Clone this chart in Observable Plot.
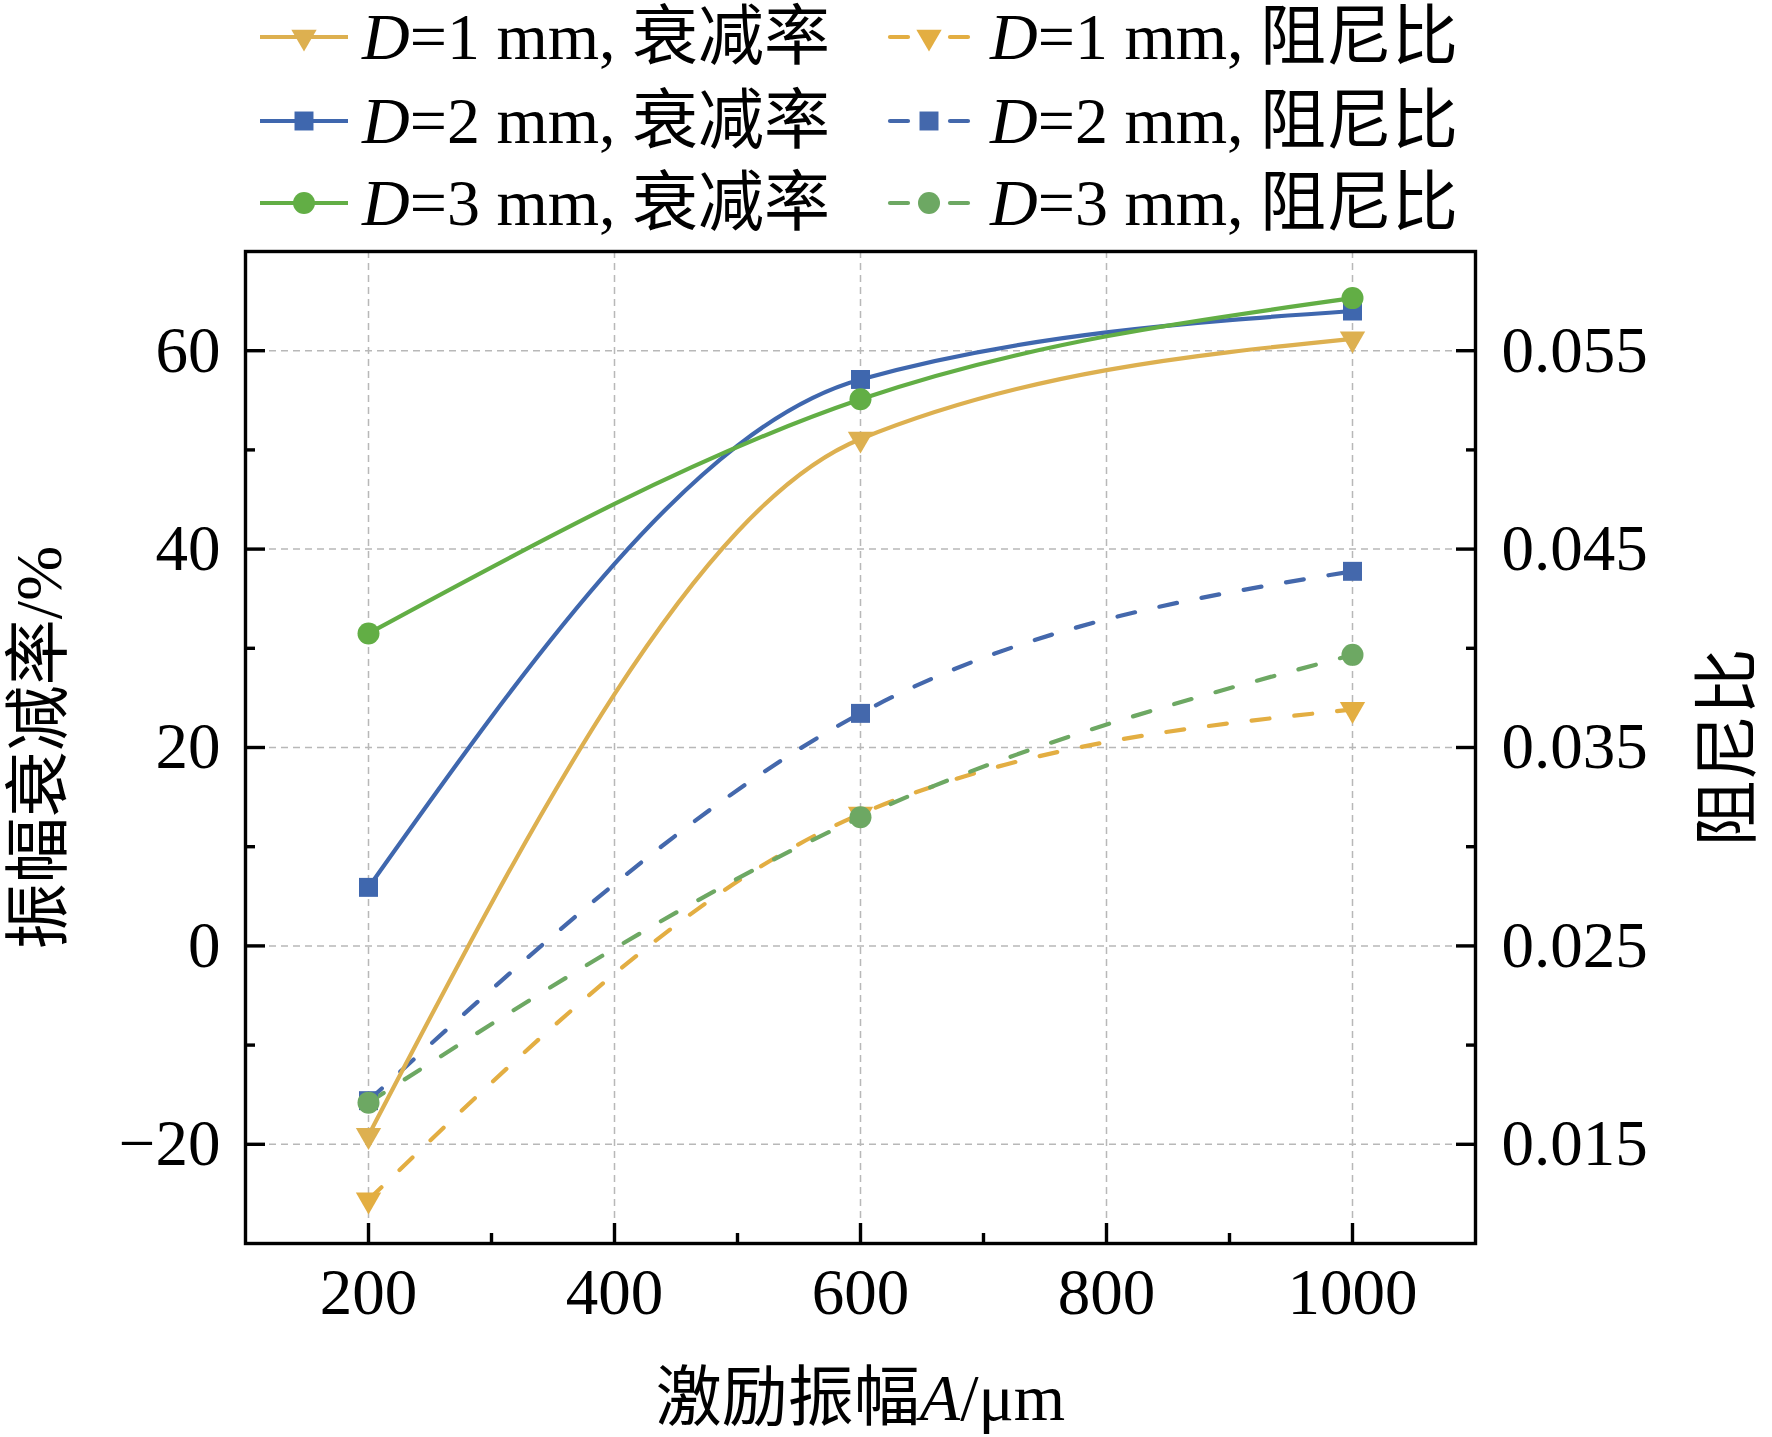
<!DOCTYPE html>
<html>
<head>
<meta charset="utf-8">
<script src="https://cdn.jsdelivr.net/npm/d3@7"></script>
<script src="https://cdn.jsdelivr.net/npm/@observablehq/plot@0.6"></script>
<style>
  html, body { margin: 0; padding: 0; background: #fff; }
  #chart { width: 1772px; background: #fff; }
  #chart svg { display: block; }
</style>
</head>
<body>
<div id="chart"></div>
<script>
// ---------- data ----------
const amplitudes = [200, 600, 1000];            // 激励振幅 A / μm
const diameterLabels = ["D=1 mm", "D=2 mm", "D=3 mm"];
const attenuationD1 = [-19.1, 51.1, 61.2];       // 振幅衰减率 / %
const attenuationD2 = [5.9, 57.1, 64.0];
const attenuationD3 = [31.5, 55.1, 65.3];
const dampingD1 = [0.0122, 0.03165, 0.03692];    // 阻尼比
const dampingD2 = [0.0172, 0.03672, 0.04388];
const dampingD3 = [0.0171, 0.03148, 0.03967];

const xTicks = [200, 400, 600, 800, 1000];
const xMinorTicks = [300, 500, 700, 900];
const yTicks = [-20, 0, 20, 40, 60];
const yMinorTicks = [-10, 10, 30, 50];
const dampingTicks = [0.015, 0.025, 0.035, 0.045, 0.055];
const dampingMinorTicks = [0.020, 0.030, 0.040, 0.050];

const xDomain = [100, 1100];
const yDomain = [-30, 70];
const dampingDomain = [0.010, 0.060];

const xTitle = "激励振幅A/μm";
const yTitle = "振幅衰减率/%";
const y2Title = "阻尼比";

// ---------- styles ----------
const FONT = "'Liberation Serif','Times New Roman','Noto Sans CJK SC',serif";
const colors = {
  solid: ["#DDB050", "#3F67AE", "#62AE45"],
  dashed: ["#E3AE42", "#4468AC", "#6DA863"]
};

const triangleDown = {
  draw(context, size) {
    const s3 = Math.sqrt(3);
    const y = Math.sqrt(size / (s3 * 3));
    context.moveTo(0, y * 2);
    context.lineTo(-s3 * y, -y);
    context.lineTo(s3 * y, -y);
    context.closePath();
  }
};
const symbols = [triangleDown, "square", "circle"];
const radii = [9.4, 10.7, 11];
const solidWidth = 4.2;
const dashedWidth = 4.2;

// right-axis values mapped onto the left scale
const toLeft = d3.scaleLinear().domain(dampingDomain).range(yDomain);

const attenuation = [attenuationD1, attenuationD2, attenuationD3];
const damping = [dampingD1, dampingD2, dampingD3];

const solidSeries = attenuation.map((vals, i) =>
  vals.map((v, j) => ({x: amplitudes[j], y: v, s: i})));
const dashedSeries = damping.map((vals, i) =>
  vals.map((v, j) => ({x: amplitudes[j], y: toLeft(v), s: i})));

const marks = [
  Plot.gridX(xTicks, {stroke: "#b8b8b8", strokeOpacity: 1, strokeWidth: 1.5, strokeDasharray: "7,5"}),
  Plot.gridY(yTicks, {stroke: "#b8b8b8", strokeOpacity: 1, strokeWidth: 1.5, strokeDasharray: "7,5"})
];

// dashed (damping ratio) first
dashedSeries.forEach((data, i) => {
  marks.push(Plot.line(data, {x: "x", y: "y", curve: "monotone-x", stroke: colors.dashed[i],
    strokeWidth: dashedWidth, strokeDasharray: "18,25", strokeLinecap: "round"}));
});
dashedSeries.forEach((data, i) => {
  marks.push(Plot.dot(data, {x: "x", y: "y", symbol: symbols[i], r: radii[i], fill: colors.dashed[i], stroke: "none"}));
});
// solid (attenuation rate)
solidSeries.forEach((data, i) => {
  marks.push(Plot.line(data, {x: "x", y: "y", curve: "monotone-x", stroke: colors.solid[i], strokeWidth: solidWidth}));
});
solidSeries.forEach((data, i) => {
  marks.push(Plot.dot(data, {x: "x", y: "y", symbol: symbols[i], r: radii[i], fill: colors.solid[i], stroke: "none"}));
});

const fmt = d3.format(".3f");
marks.push(
  Plot.frame({stroke: "#000", strokeWidth: 3.4}),
  // inward ticks
  Plot.axisX(xTicks, {anchor: "bottom", tickSize: 20, dy: -20, fill: "none", stroke: "#000", strokeWidth: 3.4, label: null}),
  Plot.axisX(xMinorTicks, {anchor: "bottom", tickSize: 10, dy: -10, fill: "none", stroke: "#000", strokeWidth: 3.4, label: null}),
  Plot.axisY(yTicks, {anchor: "left", tickSize: 20, dx: 20, fill: "none", stroke: "#000", strokeWidth: 3.4, label: null}),
  Plot.axisY(yMinorTicks, {anchor: "left", tickSize: 10, dx: 10, fill: "none", stroke: "#000", strokeWidth: 3.4, label: null}),
  Plot.axisY(dampingTicks.map(toLeft), {anchor: "right", tickSize: 20, dx: -20, fill: "none", stroke: "#000", strokeWidth: 3.4, label: null}),
  Plot.axisY(dampingMinorTicks.map(toLeft), {anchor: "right", tickSize: 10, dx: -10, fill: "none", stroke: "#000", strokeWidth: 3.4, label: null}),
  // tick labels
  Plot.axisX(xTicks, {anchor: "bottom", tickSize: 0, tickPadding: 24, label: null, fill: "#000", tickFormat: d => String(d)}),
  Plot.axisY(yTicks, {anchor: "left", tickSize: 0, tickPadding: 25, label: null, fill: "#000"}),
  Plot.axisY(dampingTicks.map(toLeft), {anchor: "right", tickSize: 0, tickPadding: 26, label: null, fill: "#000",
    tickFormat: v => fmt(toLeft.invert(v))}),
  // axis titles
  Plot.text([xTitle], {frameAnchor: "bottom", dy: 155, textAnchor: "middle", lineAnchor: "middle", fill: "#000", fontSize: 66}),
  Plot.text([yTitle], {frameAnchor: "left", dx: -206, rotate: -90, textAnchor: "middle", lineAnchor: "middle", fill: "#000", fontSize: 66}),
  Plot.text([y2Title], {frameAnchor: "right", dx: 253, rotate: -90, textAnchor: "middle", lineAnchor: "middle", fill: "#000", fontSize: 66})
);

const plot = Plot.plot({
  width: 1772,
  height: 1197,
  marginTop: 11,
  marginBottom: 194,
  marginLeft: 245,
  marginRight: 297,
  x: {domain: xDomain},
  y: {domain: yDomain},
  style: {fontFamily: FONT, fontSize: "65px", color: "#000", background: "#fff", overflow: "visible"},
  marks
});

// italic A in the x title
d3.select(plot).selectAll("text").each(function() {
  if (this.textContent === xTitle) {
    const t = d3.select(this);
    t.text(null);
    t.append("tspan").text("激励振幅");
    t.append("tspan").attr("font-style", "italic").text("A");
    t.append("tspan").text("/μm");
  }
});

// ---------- legend (above the plot) ----------
const legend = d3.create("svg")
  .attr("width", 1772).attr("height", 240)
  .style("font-family", FONT).style("font-size", "66px");
const rowY = [37, 121, 203];
const cols = [
  {x1: 260, x2: 348, mx: 304, tx: 362, kind: "衰减率", dashed: false},
  {x1: 890, x2: 968, mx: 929, tx: 990, kind: "阻尼比", dashed: true}
];
const symbolGen = [d3.symbol(triangleDown, Math.PI * radii[0] ** 2),
                   d3.symbol(d3.symbolSquare, Math.PI * radii[1] ** 2),
                   null];
cols.forEach(c => {
  diameterLabels.forEach((lab, i) => {
    const y = rowY[i];
    const col = c.dashed ? colors.dashed[i] : colors.solid[i];
    if (c.dashed) {
      legend.append("line").attr("x1", c.x1).attr("x2", c.x1 + 18).attr("y1", y).attr("y2", y)
        .attr("stroke", col).attr("stroke-width", dashedWidth).attr("stroke-linecap", "round");
      legend.append("line").attr("x1", c.x2 - 18).attr("x2", c.x2).attr("y1", y).attr("y2", y)
        .attr("stroke", col).attr("stroke-width", dashedWidth).attr("stroke-linecap", "round");
    } else {
      legend.append("line").attr("x1", c.x1).attr("x2", c.x2).attr("y1", y).attr("y2", y)
        .attr("stroke", col).attr("stroke-width", solidWidth);
    }
    if (i === 2) {
      legend.append("circle").attr("cx", c.mx).attr("cy", y).attr("r", radii[2]).attr("fill", col);
    } else {
      legend.append("path").attr("d", symbolGen[i]()).attr("transform", `translate(${c.mx},${y})`).attr("fill", col);
    }
    const t = legend.append("text").attr("x", c.tx).attr("y", y + 22).attr("fill", "#000");
    t.append("tspan").attr("font-style", "italic").text(lab.slice(0, 1));
    t.append("tspan").text(lab.slice(1) + ", " + c.kind);
  });
});

const chart = document.getElementById("chart");
chart.appendChild(legend.node());
chart.appendChild(plot);
</script>
</body>
</html>
